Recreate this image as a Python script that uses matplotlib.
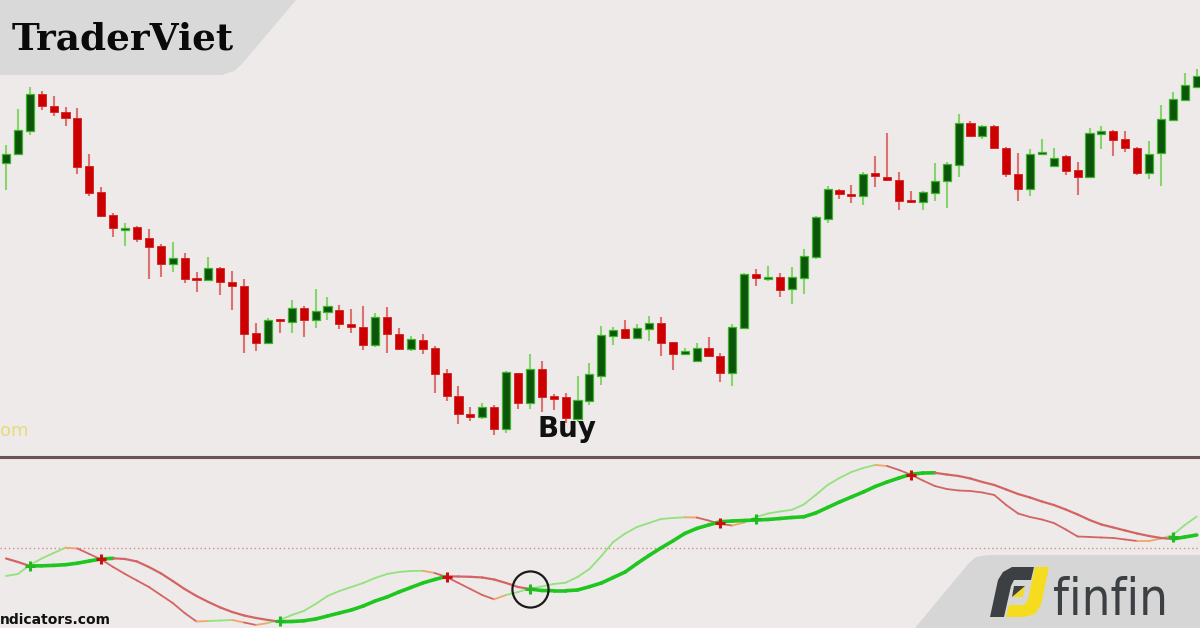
import numpy as np
import matplotlib
matplotlib.use("Agg")
import matplotlib.pyplot as plt
from matplotlib.collections import LineCollection
from matplotlib.patches import Polygon
from matplotlib import font_manager
from matplotlib.font_manager import FontProperties

# ---------------- data ----------------
opens = [297, 306, 329, 366, 354, 348, 342, 294, 268, 245,
         230, 233, 222, 214, 196, 202, 181.5, 180, 192, 178,
         174, 127, 117, 140.5, 138, 152, 140, 148.5, 150, 136.5,
         133, 115, 143, 126, 111, 120, 112, 87, 64, 46.5,
         43.5, 53, 31, 87, 57, 91, 64, 63, 41, 59.5,
         84, 124.5, 131, 122, 131, 137, 118, 106, 99.5, 112.5,
         104, 87, 132.5, 186, 181, 183, 171, 182, 203.5, 241.5,
         270.5, 266.5, 264, 286.5, 283.5, 280.5, 260.5, 258, 267.5, 279,
         295, 337, 324, 334, 312.5, 286.5, 271.5, 306, 294.5, 304,
         290, 283, 326.5, 329, 321, 312.3, 287.5, 307.5, 340, 360,
         373.5]
highs = [315, 351, 373, 369, 364, 353, 352, 306, 273, 247,
         237, 234, 231, 216, 218, 207, 188, 203, 193, 189,
         181, 137, 142, 141.5, 160, 154, 171, 163, 155, 151,
         154, 147, 153, 132, 124, 126, 114, 91, 74, 53,
         57, 55, 89, 87.3, 106, 99, 66, 67, 84, 97,
         134, 133, 140, 136, 144, 143, 118.5, 112, 117, 123,
         107, 136, 187, 191, 194, 187, 193, 211, 244, 274,
         271.5, 275, 288, 304, 327, 288, 269, 269, 297, 298.5,
         346, 339, 335, 335, 313.3, 307, 311, 321, 312, 305,
         298, 332, 334, 330, 329, 312.7, 319, 355, 368, 387,
         391]
lows = [270, 305, 325, 350, 344, 334, 286, 264, 243, 223,
        214, 218, 181, 183, 188, 177, 168, 179, 165, 150,
        107, 109, 116, 127, 127, 123, 132, 140, 131, 127,
        110, 113, 107, 110, 109, 106, 67, 59, 36, 39,
        41, 25, 27, 51, 51, 48, 50, 37, 38, 55,
        75, 115, 121, 121, 119, 104, 90, 105.5, 98, 103,
        78, 74, 131, 174, 179, 163, 156, 166, 201, 237,
        261, 257, 255, 273, 279, 250, 257, 250, 259, 252,
        283, 323, 321, 311, 283, 259, 264, 305.5, 293, 285,
        265, 282, 311, 304, 308, 285, 281, 274, 339, 359,
        373]
closes = [306, 330, 366, 354, 348, 342, 293, 267, 244, 232,
          232.5, 221, 213, 196, 202, 181, 180, 192, 178, 174,
          126, 117, 140, 139, 152, 140, 149, 154, 136, 133,
          115, 143, 126, 111, 121, 111, 86, 64, 46, 43.5,
          53, 31, 88, 57, 91, 63, 61, 42, 60, 86,
          125, 130, 122, 132, 137, 117, 106, 109, 112.5, 104.5,
          87, 133, 186, 182, 183, 170, 183, 204, 243.5, 271,
          266, 264, 286.5, 284.5, 280, 259.5, 258, 268.5, 279.5, 296,
          337, 324, 334, 312, 286, 271.5, 306, 308, 302.5, 289,
          283, 326.7, 329, 320, 312, 287, 306.5, 341, 361, 375,
          384]

fast_line = [52, 54, 63, 69.5, 75, 80.3, 79.5, 74, 68.5, 61,
             54, 47.5, 41, 33, 25, 15, 6.5, 7, 7.5, 8,
             5.5, 3, 5, 8, 13, 17, 24, 32, 37, 41,
             45, 50, 54, 56, 57, 57.2, 55, 51, 45, 39,
             33, 28.7, 33, 36, 39.5, 41.5, 44, 45.3, 51, 59,
             72, 86, 94.5, 101, 105, 109, 110, 110.7, 110.5, 107.5,
             104, 102.5, 105.5, 111, 114.5, 116.5, 118.2, 123.5, 133, 143,
             150, 156, 160, 163, 162, 158, 153.3, 147.5, 142, 139,
             137.5, 137, 135.5, 133, 123, 114.5, 111, 108.5, 105, 98.5,
             91.5, 91, 90.5, 90, 88.5, 87, 87, 89.5, 93, 103,
             111.5]
slow_line = [69.5, 66, 62, 62.2, 62.6, 63.3, 64.8, 67, 69, 69.7,
             69, 66.5, 61, 54.7, 47, 39, 32, 26, 20.5, 16,
             12.5, 10, 8, 6.3, 6.5, 7.2, 9, 12, 15, 18,
             22, 27, 31, 36, 40.5, 45, 48.5, 51.6, 51.5, 51.2,
             50.5, 48.5, 45, 41, 39, 37.5, 37.3, 37.3, 38, 41.3,
             45, 50.5, 56, 64.5, 72.5, 80, 87, 94.5, 99.5, 103,
             106.3, 107, 107.5, 108, 108.5, 109.5, 110.5, 111.2, 115, 120.5,
             126, 131, 136, 141.5, 146, 150, 153.7, 155, 155.2, 153.5,
             152, 149.5, 146, 143, 138.5, 134, 130.5, 126.5, 123, 118.5,
             113.5, 108, 103.5, 100.5, 97.5, 94.5, 92, 90, 89, 91,
             93]
signal_level = 80
buy_bar = 44
buy_label = "Buy"

# ---------------- style ----------------
BG = "#edeae9"
G_BODY, G_EDGE, G_WICK = "#0b560b", "#3fb52c", "#86d46c"
R_BODY, R_EDGE, R_WICK = "#cc0000", "#d42020", "#de7070"
SLOW_G, FAST_G, LINE_R, LINE_O = "#1fc61f", "#93e27c", "#d46464", "#f0a66a"

W, H = 1200, 628
fig = plt.figure(figsize=(12, 6.28), dpi=100, facecolor=BG)
renderer = fig.canvas.get_renderer()


def fit_width(txt, target_px):
    """Scale a text's font size so that its rendered width is target_px."""
    bb = txt.get_window_extent(renderer=renderer)
    txt.set_fontsize(txt.get_fontsize() * target_px / bb.width)


sep_row = 455
ax_top = fig.add_axes([0, (H - sep_row) / H, 1, sep_row / H], facecolor=BG)
ax_bot = fig.add_axes([0, 0, 1, (H - 457) / H], facecolor=BG)

n = len(opens)
x = np.arange(n)
step = 11.907
xlim = (-6 / step, (W - 6) / step)

# ---------------- candles ----------------
o = np.array(opens, float); c = np.array(closes, float)
hi = np.array(highs, float); lo = np.array(lows, float)
up = c >= o
ax_top.vlines(x[up], lo[up], hi[up], color=G_WICK, lw=1.5, zorder=2)
ax_top.vlines(x[~up], lo[~up], hi[~up], color=R_WICK, lw=1.5, zorder=2)
bottoms = np.minimum(o, c)
heights = np.maximum(np.abs(c - o), 2.2)
ax_top.bar(x[up], heights[up], bottom=bottoms[up], width=0.68,
           color=G_BODY, edgecolor=G_EDGE, linewidth=0.9, zorder=3)
ax_top.bar(x[~up], heights[~up], bottom=bottoms[~up], width=0.68,
           color=R_BODY, edgecolor=R_EDGE, linewidth=0.6, zorder=3)
ax_top.set_xlim(*xlim)
ax_top.set_ylim(460 - sep_row, 460)
ax_top.text(47.1, 23, buy_label, fontsize=20, fontweight="bold",
            family="DejaVu Sans", color="#111111", ha="center", va="baseline", zorder=5)

# ---------------- indicator ----------------
f = np.array(fast_line, float); s = np.array(slow_line, float)
ax_bot.axhline(signal_level, color="#d98c8c", lw=1.0, ls=(0, (1, 2)), zorder=1)

# slow line: green while rising or while the fast line is above it
seg_s = [[(i, s[i]), (i + 1, s[i + 1])] for i in range(n - 1)]
green_s = [(f[i] >= s[i]) or (s[i + 1] > s[i]) for i in range(n - 1)]
col_s = [SLOW_G if g else LINE_R for g in green_s]
lw_s = [2.6 if g else 1.6 for g in green_s]
ax_bot.add_collection(LineCollection(seg_s, colors=col_s, linewidths=lw_s,
                                     capstyle="round", joinstyle="round", zorder=3))

# fast line: coloured by slope, orange just after a turn
seg_f = [[(i, f[i]), (i + 1, f[i + 1])] for i in range(n - 1)]
col_f = []
for i in range(n - 1):
    dd = f[i + 1] - f[i]
    prev = f[i] - f[i - 1] if i > 0 else dd
    if np.sign(dd) != np.sign(prev):
        col_f.append(LINE_O)
    else:
        col_f.append(FAST_G if dd > 0 else LINE_R)
ax_bot.add_collection(LineCollection(seg_f, colors=col_f, linewidths=1.3,
                                     capstyle="round", zorder=2))

# crossover markers
d = f - s
for i in range(1, n):
    if d[i - 1] < 0 <= d[i]:
        ax_bot.plot(i, (f[i] + s[i]) / 2, marker="+", ms=7, mew=2.2, color="#22b822", zorder=4)
    elif d[i - 1] >= 0 > d[i]:
        ax_bot.plot(i, (f[i] + s[i]) / 2, marker="+", ms=7, mew=2.2, color="#c81010", zorder=4)

ax_bot.plot(buy_bar, (f[buy_bar] + s[buy_bar]) / 2, marker="o", ms=26, mfc="none",
            mec="#1a1a1a", mew=1.6, zorder=5)
ax_bot.set_xlim(*xlim)
ax_bot.set_ylim(0, H - 457)

for ax in (ax_top, ax_bot):
    ax.set_xticks([]); ax.set_yticks([])
    for sp in ax.spines.values():
        sp.set_visible(False)
ax_bot.spines["top"].set_visible(True)
ax_bot.spines["top"].set_color("#6b5454")
ax_bot.spines["top"].set_linewidth(2.2)

# ---------------- overlay: branding ----------------
ov = fig.add_axes([0, 0, 1, 1], facecolor="none", zorder=10)
ov.set_xlim(0, W); ov.set_ylim(H, 0); ov.axis("off")

ov.add_patch(Polygon([(0, 0), (296, 0), (242, 64), (234, 71), (222, 75), (0, 75)],
                     closed=True, fc="#d9d9d9", ec="none"))
tv = ov.text(12, 50, "TraderViet", fontsize=24, fontweight="heavy", family="DejaVu Serif",
             color="#0a0a0a", ha="left", va="baseline")
fit_width(tv, 223)

ov.add_patch(Polygon([(915, 628), (969, 563), (976, 557), (988, 555), (1200, 555), (1200, 628)],
                     closed=True, fc="#d6d6d6", ec="none"))
ov.add_patch(Polygon([(990, 617), (998, 580), (1003, 572), (1012, 567), (1034, 567),
                      (1031, 580), (1014, 580), (1011, 586), (1004, 617)],
                     closed=True, fc="#3d4042", ec="none"))
ov.add_patch(Polygon([(1035, 567), (1049, 567), (1041, 605), (1035, 614), (1024, 617),
                      (1006, 617), (1009, 605), (1024, 605), (1028, 600)],
                     closed=True, fc="#f6dc1f", ec="none"))
ov.add_patch(Polygon([(1012, 597), (1025, 586), (1023, 597)], closed=True, fc="#f6dc1f", ec="none"))
ov.add_patch(Polygon([(1012, 597), (1014, 586), (1025, 586)], closed=True, fc="#3d4042", ec="none"))

# pick a narrow/condensed face for the logotype if one is installed
narrow_file = None
for fe in font_manager.fontManager.ttflist:
    key = (fe.fname + " " + fe.name).lower()
    if ("narrow" in key or "condensed" in key) and fe.style == "normal" \
            and "bold" not in key and "light" not in key and "thin" not in key:
        narrow_file = fe.fname
        break
if narrow_file:
    fp = FontProperties(fname=narrow_file, size=44)
else:
    fp = FontProperties(family="DejaVu Sans", size=36)
ff = ov.text(1053, 615, "finfin", fontproperties=fp, color="#3d4042",
             ha="left", va="baseline")
fit_width(ff, 115)

ov.text(0, 436, "om", fontsize=13, family="DejaVu Sans", color="#e6db7c",
        ha="left", va="baseline")
ov.text(0, 627, "ndicators.com", fontsize=10, fontweight="bold", family="DejaVu Sans",
        color="#111111", ha="left", va="bottom")

fig.savefig("out.png", dpi=100, facecolor=BG)
